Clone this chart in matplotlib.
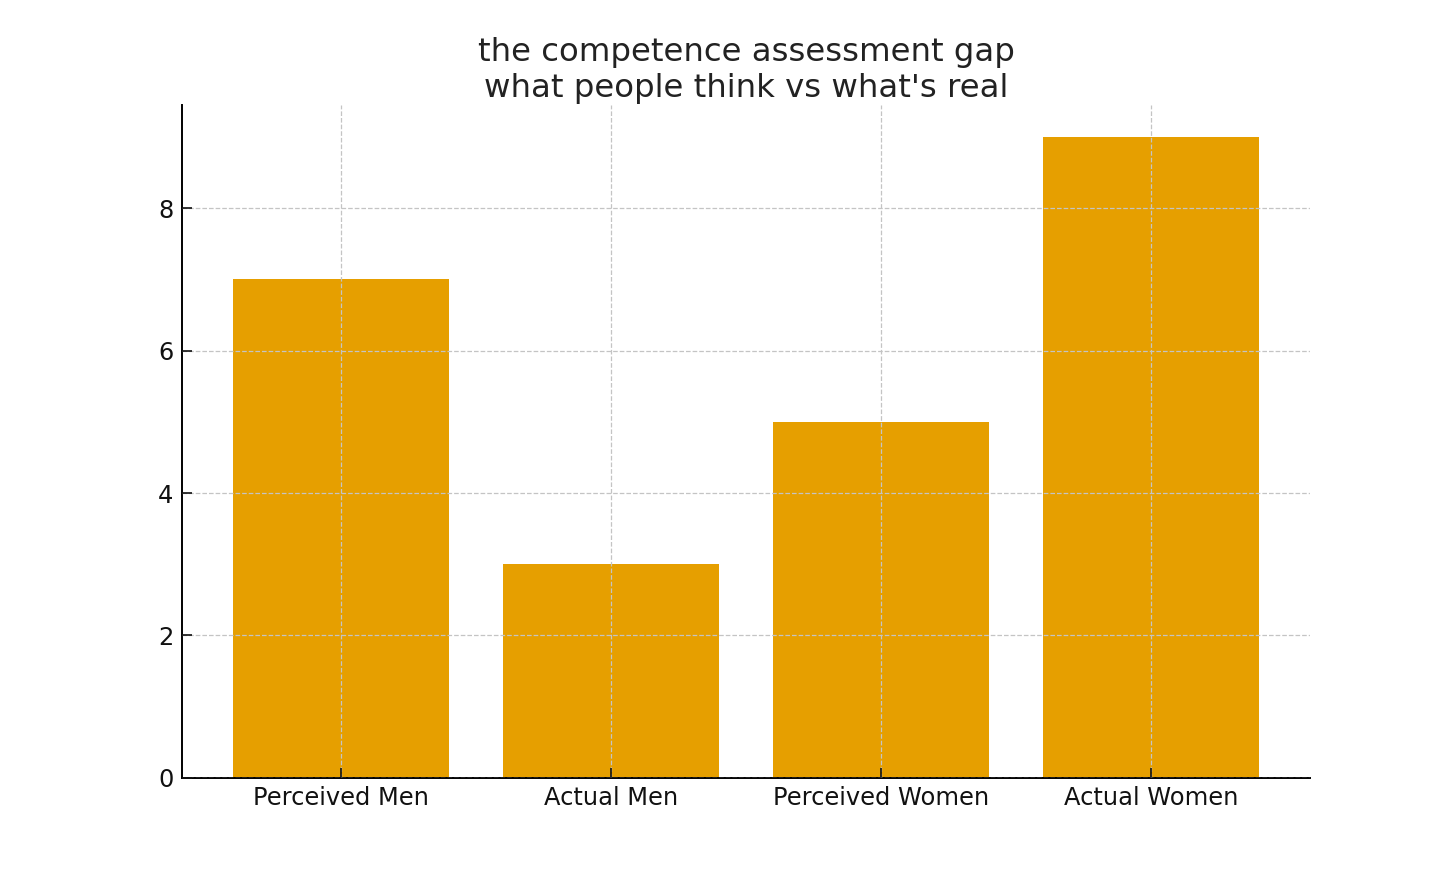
import matplotlib
matplotlib.use("Agg")
import matplotlib.pyplot as plt

categories = ["Perceived Men", "Actual Men", "Perceived Women", "Actual Women"]
values = [7, 3, 5, 9]

BAR_COLOR = "#E69F00"

fig, ax = plt.subplots(figsize=(14.56, 8.74), dpi=100)

ax.bar(categories, values, color=BAR_COLOR, width=0.8)

ax.grid(True, linestyle="--", color="#c4c4c4", linewidth=0.9)
ax.set_axisbelow(False)

for side in ("top", "right"):
    ax.spines[side].set_visible(False)
for side in ("left", "bottom"):
    ax.spines[side].set_linewidth(1.4)

ax.tick_params(axis="both", direction="in", labelsize=17.4, length=7,
               width=1.2, colors="#111111", pad=6)
ax.set_yticks([0, 2, 4, 6, 8])

ax.set_title("the competence assessment gap\nwhat people think vs what's real",
             fontsize=23.3, color="#222222", pad=6)

fig.savefig("out.png", facecolor="white")
